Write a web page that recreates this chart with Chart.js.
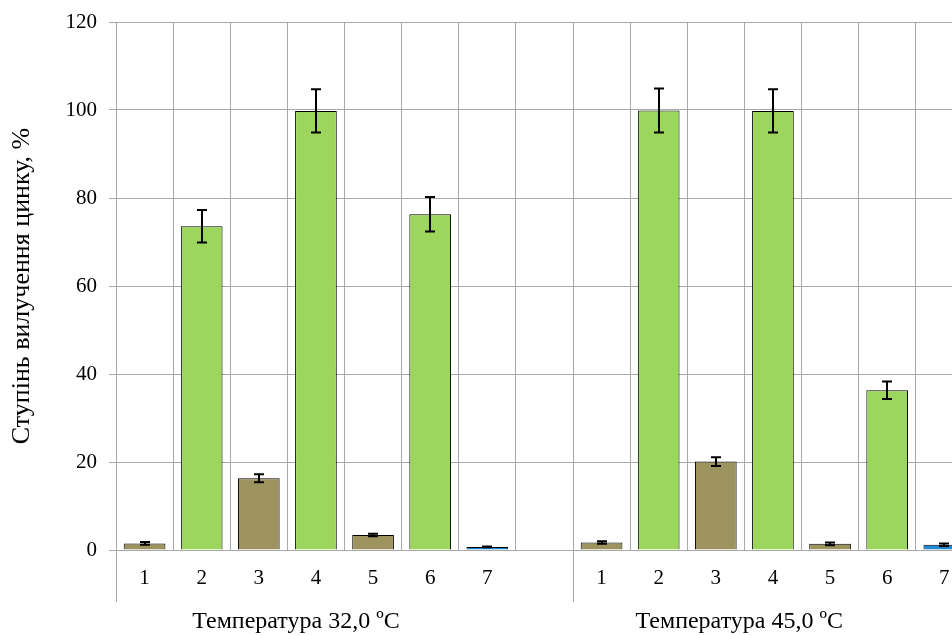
<!DOCTYPE html>
<html>
<head>
<meta charset="utf-8">
<script src="https://cdn.jsdelivr.net/npm/chart.js@4/dist/chart.umd.min.js"></script>
<style>
  html, body { margin: 0; padding: 0; background: #fff; overflow: hidden; }
  #wrap { width: 952px; height: 635px; overflow: hidden; }
</style>
</head>
<body>
<div id="wrap"><canvas id="chart" width="1040" height="635"></canvas></div>
<script>
// categories: 7 samples per temperature, one empty slot after each group
const categories = ['1', '2', '3', '4', '5', '6', '7', '', '1', '2', '3', '4', '5', '6', '7', ''];
const groupLabels = ['Температура 32,0 ºС', 'Температура 45,0 ºС'];
const groupStart = [0, 8];
const groupCenter = [2.65, 10.41]; // category index under the middle of each group label

// degree of zinc extraction, %
const values = [1.5, 73.6, 16.3, 99.8, 3.4, 76.3, 0.7, null, 1.7, 99.9, 20.1, 99.8, 1.4, 36.3, 1.2, null];
const errors = [0.3, 3.7, 0.9, 4.9, 0.3, 3.9, 0.1, null, 0.3, 5.0, 1.0, 4.9, 0.3, 2.0, 0.3, null];
// sample type decides the bar colour
const kinds = ['a', 'b', 'a', 'b', 'a', 'b', 'c', '', 'a', 'b', 'a', 'b', 'a', 'b', 'c', ''];

const kindColor = { a: '#9c935f', b: '#9dd65c', c: '#1f88d2', '': '#fff' };
const gridColor = '#a8a8a8';
const font = 'Liberation Serif';

const errorBars = {
  id: 'errorBars',
  afterDatasetsDraw(chart) {
    const ctx = chart.ctx;
    const meta = chart.getDatasetMeta(0);
    const y = chart.scales.y;
    ctx.save();
    ctx.strokeStyle = '#000';
    ctx.lineWidth = 2;
    meta.data.forEach((bar, i) => {
      if (values[i] == null) return;
      const top = y.getPixelForValue(values[i] + errors[i]);
      const bot = y.getPixelForValue(values[i] - errors[i]);
      const x = Math.round(bar.x);
      ctx.beginPath();
      ctx.moveTo(x, top); ctx.lineTo(x, bot);
      ctx.moveTo(x - 5, top); ctx.lineTo(x + 5, top);
      ctx.moveTo(x - 5, bot); ctx.lineTo(x + 5, bot);
      ctx.stroke();
    });
    ctx.restore();
  }
};

const groups = {
  id: 'groups',
  afterDraw(chart) {
    const ctx = chart.ctx;
    const x = chart.scales.x;
    const area = chart.chartArea;
    const slot = (area.right - area.left) / categories.length;
    ctx.save();
    ctx.strokeStyle = gridColor;
    ctx.lineWidth = 1;
    groupStart.forEach(s => {
      const gx = Math.round(area.left + slot * s) + 0.5;
      ctx.beginPath();
      ctx.moveTo(gx, area.bottom);
      ctx.lineTo(gx, area.bottom + 52);
      ctx.stroke();
    });
    ctx.fillStyle = '#000';
    ctx.font = '24px "' + font + '"';
    ctx.textAlign = 'center';
    ctx.textBaseline = 'middle';
    groupLabels.forEach((t, g) => {
      ctx.fillText(t, x.getPixelForValue(groupCenter[g]), area.bottom + 72);
    });
    ctx.restore();
  }
};

new Chart(document.getElementById('chart'), {
  type: 'bar',
  data: {
    labels: categories,
    datasets: [{
      data: values,
      backgroundColor: kinds.map(k => kindColor[k]),
      borderColor: '#000',
      borderWidth: 1,
      barPercentage: 0.73,
      categoryPercentage: 1
    }]
  },
  options: {
    responsive: false,
    animation: false,
    layout: { padding: { top: 22, right: 10, left: 0, bottom: 0 } },
    plugins: {
      legend: { display: false },
      tooltip: { enabled: false }
    },
    scales: {
      x: {
        afterFit: s => { s.height = 85; },
        grid: { color: gridColor, drawTicks: false, offset: true },
        border: { display: false },
        ticks: { color: '#000', padding: 16, font: { family: font, size: 21 } }
      },
      y: {
        min: 0,
        max: 120,
        afterFit: s => { s.width = 116; s.paddingTop = 0; s.paddingBottom = 0; },
        ticks: { stepSize: 20, color: '#000', padding: 12, font: { family: font, size: 21 } },
        grid: { color: gridColor, tickLength: 7, tickColor: gridColor },
        border: { color: gridColor },
        title: {
          display: true,
          text: 'Ступінь вилучення цинку, %',
          color: '#000',
          padding: { top: 7 },
          font: { family: font, size: 26 }
        }
      }
    }
  },
  plugins: [errorBars, groups]
});
</script>
</body>
</html>
